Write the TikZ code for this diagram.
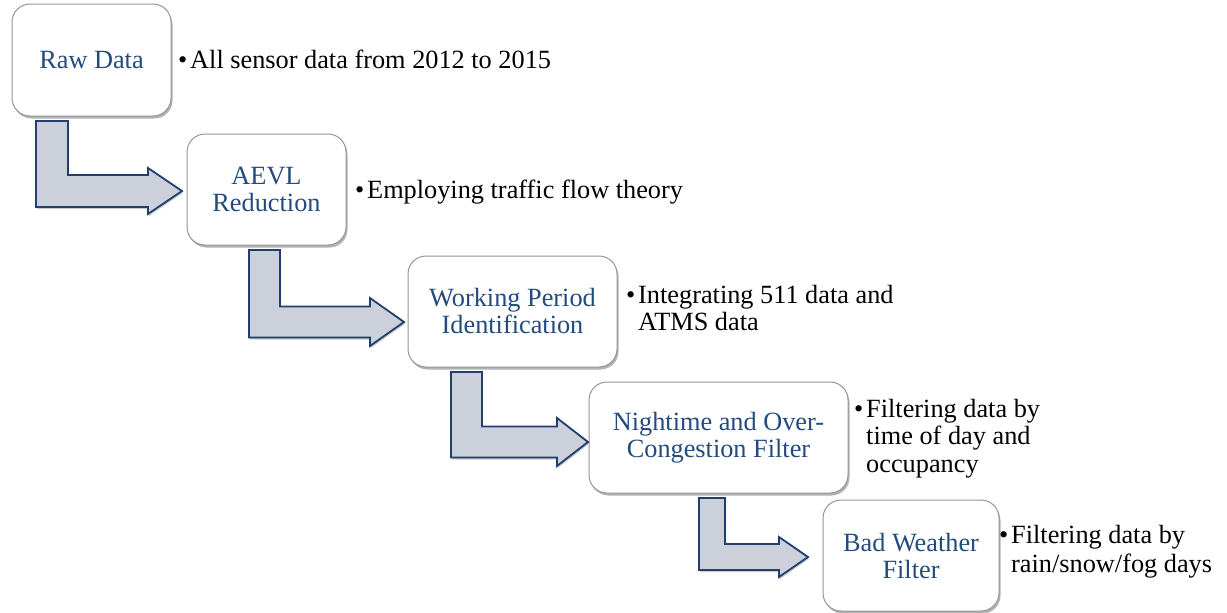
\documentclass[tikz,border=0pt]{standalone}
\usepackage{fontspec}
\setmainfont{Liberation Serif}
\usetikzlibrary{calc,shadows}
\definecolor{boxtext}{RGB}{35,75,125}
\definecolor{arrowline}{RGB}{32,62,110}
\definecolor{arrowfill}{RGB}{204,208,218}
\definecolor{boxline}{RGB}{150,150,150}
% #1 from box, #2 to box, #3 shaft x offset, #4 width, #5 head length, #6 head half height, #7 tip gap, #8 tip y shift
\newcommand\bentarrow[8]{%
  \path[arrowshape] let \p1=($(#1.south west)+(#3,5)$), \p2=($(#2.west)+(-#7,#8)$) in
    (\x1,\y1) -- ({\x1+#4pt},\y1) -- ({\x1+#4pt},{\y2+#4pt/2})
    -- ({\x2-#5pt},{\y2+#4pt/2}) -- ({\x2-#5pt},{\y2+#6pt}) -- (\x2,\y2)
    -- ({\x2-#5pt},{\y2-#6pt}) -- ({\x2-#5pt},{\y2-#4pt/2}) -- (\x1,{\y2-#4pt/2}) -- cycle;}
\tikzset{
  box/.style={draw=boxline, line width=1pt, fill=white, rounded corners=18pt,
    align=center, text=boxtext, font=\fontsize{26.3}{27}\selectfont,
    inner sep=0pt, outer sep=0pt,
    drop shadow={shadow xshift=1.5pt, shadow yshift=-2.5pt, opacity=0.3, fill=black}},
  bul/.style={anchor=base west, inner sep=0pt, outer sep=0pt, text=black,
    font=\fontsize{26.3}{27.5}\selectfont},
  arrowshape/.style={draw=arrowline, line width=1.8pt, fill=arrowfill, line join=miter,
    drop shadow={shadow xshift=1pt, shadow yshift=-2pt, opacity=0.2, fill=black}}
}
\newcommand\bultext[1]{\begin{tabular}[t]{@{}l@{\hspace{3pt}}l@{}}#1\end{tabular}}
\begin{document}
\begin{tikzpicture}[x=1pt,y=-1pt]
\useasboundingbox (0,0) rectangle (1227,613);
\fill[white] (0,0) rectangle (1227,613);
% boxes
\node[box, minimum width=159pt, minimum height=112pt] (b1) at (91.5,60) {Raw Data};
\node[box, minimum width=159pt, minimum height=111pt] (b2) at (266.5,189.5) {AEVL\\Reduction};
\node[box, minimum width=209pt, minimum height=111pt] (b3) at (512.5,311.5) {Working Period\\Identification};
\node[box, minimum width=259pt, minimum height=111pt] (b4) at (718.5,437.5) {Nightime and Over-\\Congestion Filter};
\node[box, minimum width=176pt, minimum height=111pt] (b5) at (911,555.5) {Bad Weather\\Filter};
% bent arrows
\bentarrow{b1}{b2}{24}{32}{34}{23}{5}{1.5}
\bentarrow{b2}{b3}{62}{31}{34}{24}{4}{10.5}
\bentarrow{b3}{b4}{43}{31}{31}{24}{1}{4.5}
\bentarrow{b4}{b5}{110}{26}{29}{20}{15}{1.5}
% bullet texts
\node[bul] (t1) at (178,68) {\bultext{•&All sensor data from 2012 to 2015}};
\node[bul] (t2) at (355,198) {\bultext{•&Employing traffic flow theory}};
\node[bul] (t3) at (626,303) {\bultext{•&Integrating 511 data and\\&ATMS data}};
\node[bul] (t4) at (854,417) {\bultext{•&Filtering data by\\&time of day and\\&occupancy}};
\node[bul] (t5) at (999,543) {\bultext{•&Filtering data by\\[2pt]&rain/snow/fog days}};
\end{tikzpicture}
\end{document}
